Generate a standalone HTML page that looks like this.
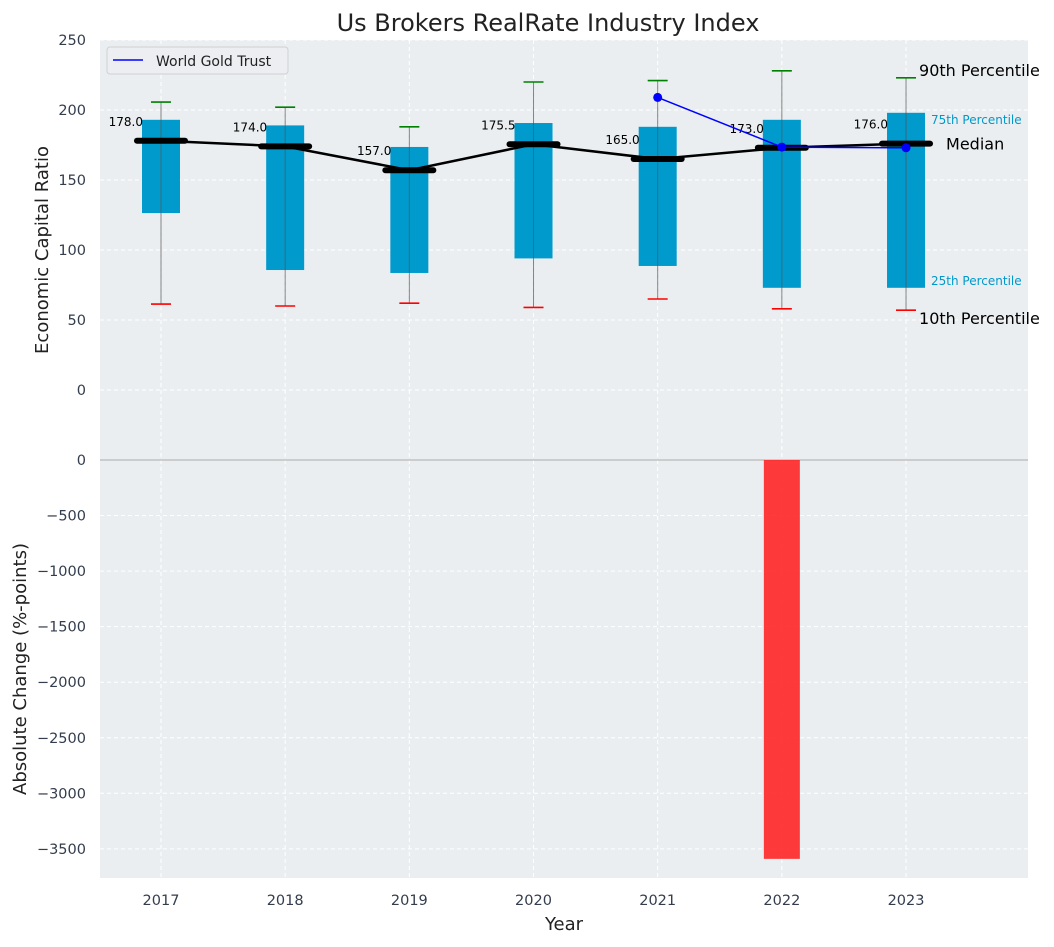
<!DOCTYPE html>
<html><head><meta charset="utf-8"><style>
body{margin:0;background:#fff;font-family:"Liberation Sans","DejaVu Sans",sans-serif}
svg text{font-family:"DejaVu Sans","Liberation Sans",sans-serif}
</style></head><body>
<svg id="c" width="1054" height="942" xmlns="http://www.w3.org/2000/svg"></svg>
<script>
const years=[2017,2018,2019,2020,2021,2022,2023];
const q75=[193,189,173.6,190.7,188,193,198];
const q25=[126.4,85.7,83.6,94,88.6,73,73];
const p90=[205.7,202,188,220,221,228,223];
const p10=[61.4,60,62,59,65,58,57];
const medians=[178.0,174.0,157.0,175.5,165.0,173.0,176.0];
const gtYears=[2021,2022,2023];
const gtValues=[209,173.5,173];
const changes=[0,0,0,0,0,-3590,0];
const topTicks=[0,50,100,150,200,250];
const botTicks=[0,-500,-1000,-1500,-2000,-2500,-3000,-3500];

const NS="http://www.w3.org/2000/svg";
const svg=document.getElementById('c');
function el(tag,attrs,parent){const e=document.createElementNS(NS,tag);for(const k in attrs)e.setAttribute(k,attrs[k]);(parent||svg).appendChild(e);return e;}
const L=100,R=1028;
const xs=i=>161+i*124.17;
const yT=v=>390-v*1.4;
const yB=v=>460-v*0.1111;
const fmt=t=>String(t).replace('-','\u2212');

let bg=el('rect',{x:L,y:40,width:R-L,height:420,fill:'#eaeef0'});

let bg2=el('rect',{x:L,y:460,width:R-L,height:418,fill:'#eaeef0'});


years.forEach((y,i)=>{el('line',{x1:xs(i),x2:xs(i),y1:40,y2:878,stroke:'#fff','stroke-dasharray':'4,3','stroke-width':1});});
topTicks.forEach(t=>{el('line',{x1:L,x2:R,y1:yT(t),y2:yT(t),stroke:'#fff','stroke-dasharray':'4,3'});
 const tx=el('text',{x:86,y:yT(t)+5,'text-anchor':'end','font-size':14.5,fill:'#333d4d'});tx.textContent=fmt(t);
 });
botTicks.forEach(t=>{el('line',{x1:L,x2:R,y1:yB(t),y2:yB(t),stroke:'#fff','stroke-dasharray':'4,3'});
 const tx=el('text',{x:86,y:yB(t)+5,'text-anchor':'end','font-size':14.5,fill:'#333d4d'});tx.textContent=fmt(t);
 });
el('line',{x1:L,x2:R,y1:460,y2:460,stroke:'#aaa','stroke-width':1});

years.forEach((y,i)=>{
 const x=xs(i);
 const b=el('rect',{x:x-19,y:yT(q75[i]),width:38,height:yT(q25[i])-yT(q75[i]),fill:'#009acd'});
 
 el('line',{x1:x,x2:x,y1:yT(p90[i]),y2:yT(p10[i]),stroke:'#555','stroke-width':1,opacity:0.7});
 el('line',{x1:x-10,x2:x+10,y1:yT(p90[i]),y2:yT(p90[i]),stroke:'green','stroke-width':1.6});
 el('line',{x1:x-10,x2:x+10,y1:yT(p10[i]),y2:yT(p10[i]),stroke:'red','stroke-width':1.6});
});
let pts=years.map((y,i)=>xs(i)+','+yT(medians[i])).join(' ');
const ml=el('polyline',{points:pts,fill:'none',stroke:'#000','stroke-width':2.5});

years.forEach((y,i)=>{
 const x=xs(i),yy=yT(medians[i]);
 const m=el('line',{x1:x-24,x2:x+24,y1:yy,y2:yy,stroke:'#000','stroke-width':6,'stroke-linecap':'round'});
 
 const t=el('text',{x:x-18,y:yy-15,'text-anchor':'end','font-size':12,fill:'#000'});t.textContent=medians[i].toFixed(1);
 
});
const gp=gtYears.map((y,j)=>xs(years.indexOf(y))+','+yT(gtValues[j])).join(' ');
const gl=el('polyline',{points:gp,fill:'none',stroke:'blue','stroke-width':1.5});

gtYears.forEach((y,j)=>{const c=el('circle',{cx:xs(years.indexOf(y)),cy:yT(gtValues[j]),r:4.5,fill:'blue'});
 });
years.forEach((y,i)=>{if(changes[i]===0)return;const x=xs(i);
 const r=el('rect',{x:x-18,y:yB(0),width:36,height:yB(changes[i])-yB(0),fill:'#ff2020',opacity:0.88});
 });
const x6=xs(6);
[['90th Percentile',x6+13,yT(p90[6])-2,16,'#000'],['75th Percentile',x6+25,yT(q75[6])+11,12,'#0099cc'],['Median',x6+40,yT(medians[6])+6,16,'#000'],['25th Percentile',x6+25,yT(q25[6])-3,12,'#0099cc'],['10th Percentile',x6+13,yT(p10[6])+14,16,'#000']].forEach(a=>{
 const t=el('text',{x:a[1],y:a[2],'font-size':a[3],fill:a[4]});t.textContent=a[0];
 });
years.forEach((y,i)=>{const t=el('text',{x:xs(i),y:905,'text-anchor':'middle','font-size':14.5,fill:'#333d4d'});t.textContent=y;
 });
const lg=el('g',{});
el('rect',{x:107,y:47,width:181,height:27,rx:3,fill:'#eceef2',stroke:'#d0d0d0'},lg);
el('line',{x1:113,x2:143,y1:60,y2:60,stroke:'blue','stroke-width':1.5},lg);
const lt=el('text',{x:156,y:66,'font-size':14,fill:'#222'},lg);lt.textContent='World Gold Trust';
const ti=el('text',{x:548,y:31,'text-anchor':'middle','font-size':24,fill:'#222'});ti.textContent='Us Brokers RealRate Industry Index';

const xt=el('text',{x:564,y:930,'text-anchor':'middle','font-size':18,fill:'#222'});xt.textContent='Year';

const y1=el('text',{x:0,y:0,'text-anchor':'middle','font-size':18,fill:'#222',transform:'translate(48,250) rotate(-90)'});y1.textContent='Economic Capital Ratio';

const y2=el('text',{x:0,y:0,'text-anchor':'middle','font-size':18,fill:'#222',transform:'translate(26,669) rotate(-90)'});y2.textContent='Absolute Change (%-points)';

</script>
</body></html>
